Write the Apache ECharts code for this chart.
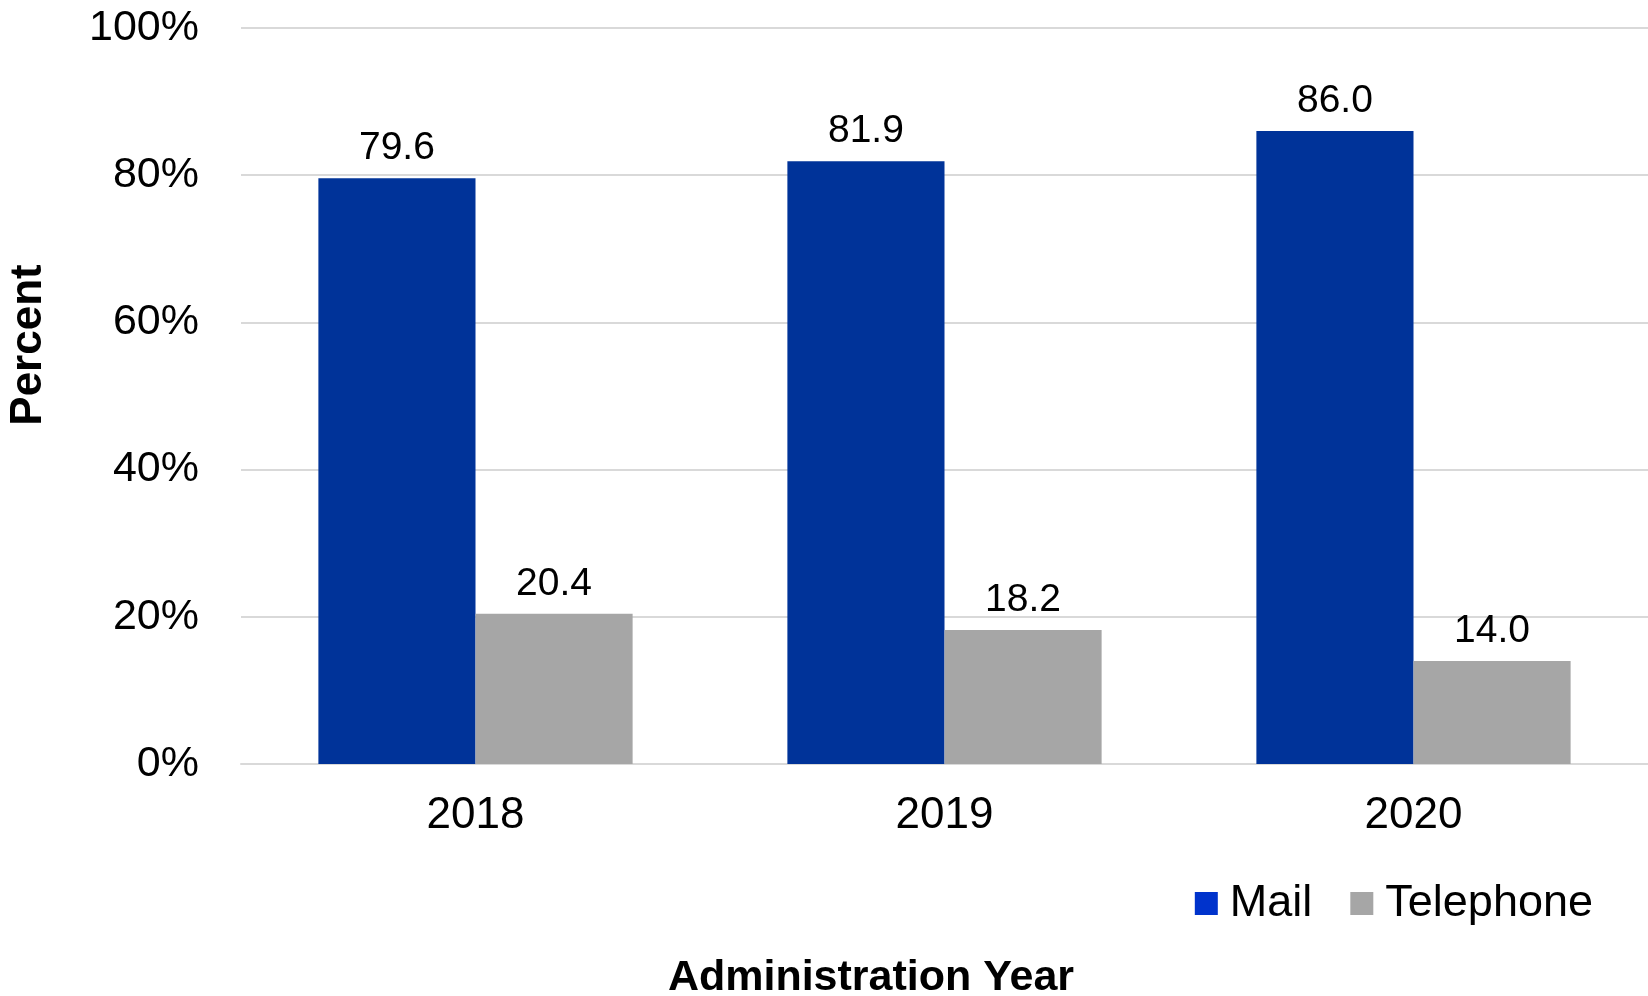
<!DOCTYPE html>
<html>
<head>
<meta charset="utf-8">
<script src="https://cdn.jsdelivr.net/npm/echarts@6/dist/echarts.min.js"></script>
<style>
  html, body { margin: 0; padding: 0; background: #fff; }
  #chart { width: 1648px; height: 996px; }
</style>
</head>
<body>
<div id="chart"></div>
<script>
// Survey response mode by administration year (percent of respondents)
const years = ['2018', '2019', '2020'];
const mailValues = [79.6, 81.9, 86.0];
const telephoneValues = [20.4, 18.2, 14.0];
const yTicks = [0, 20, 40, 60, 80, 100];

const FONT = '"Liberation Sans", Arial, Helvetica, sans-serif';
const MAIL_BAR = '#003399';
const MAIL_KEY = '#0033cc';
const PHONE = '#a6a6a6';

const chart = echarts.init(document.getElementById('chart'));

const valueLabel = {
  show: true,
  position: 'top',
  distance: 10,
  color: '#000',
  fontFamily: FONT,
  fontSize: 39,
  formatter: p => p.value.toFixed(1)
};

chart.setOption({
  animation: false,
  textStyle: { fontFamily: FONT, color: '#000' },
  grid: { left: 241, right: 0, top: 28, bottom: 232, containLabel: false },
  legend: {
    right: 50,
    top: 876,
    itemWidth: 23,
    itemHeight: 23,
    itemGap: 38,
    icon: 'rect',
    textStyle: { fontFamily: FONT, fontSize: 45, color: '#000', padding: [0, 0, 0, 7] },
    data: [
      { name: 'Mail', itemStyle: { color: MAIL_KEY } },
      { name: 'Telephone', itemStyle: { color: PHONE } }
    ]
  },
  xAxis: {
    type: 'category',
    data: years,
    axisTick: { show: false },
    axisLine: { show: true, lineStyle: { color: '#d9d9d9', width: 2 } },
    axisLabel: { fontFamily: FONT, fontSize: 44, color: '#000', margin: 30 }
  },
  yAxis: {
    type: 'value',
    min: yTicks[0],
    max: yTicks[yTicks.length - 1],
    interval: yTicks[1] - yTicks[0],
    axisLine: { show: false },
    axisTick: { show: false },
    splitLine: { lineStyle: { color: '#d9d9d9', width: 2 } },
    axisLabel: { fontFamily: FONT, fontSize: 43, color: '#000', margin: 42, formatter: '{value}%' }
  },
  series: [
    {
      name: 'Mail',
      type: 'bar',
      data: mailValues,
      barGap: '0%',
      barCategoryGap: '33%',
      itemStyle: { color: MAIL_BAR },
      label: valueLabel
    },
    {
      name: 'Telephone',
      type: 'bar',
      data: telephoneValues,
      itemStyle: { color: PHONE },
      label: valueLabel
    }
  ],
  graphic: [
    {
      type: 'text',
      x: 29,
      y: 345,
      rotation: Math.PI / 2,
      style: {
        text: 'Percent',
        font: 'bold 44px ' + FONT,
        fill: '#000',
        align: 'center',
        verticalAlign: 'middle'
      }
    },
    {
      type: 'text',
      x: 871,
      y: 978,
      style: {
        text: 'Administration Year',
        font: 'bold 43px ' + FONT,
        fill: '#000',
        align: 'center',
        verticalAlign: 'middle'
      }
    }
  ]
});
</script>
</body>
</html>
